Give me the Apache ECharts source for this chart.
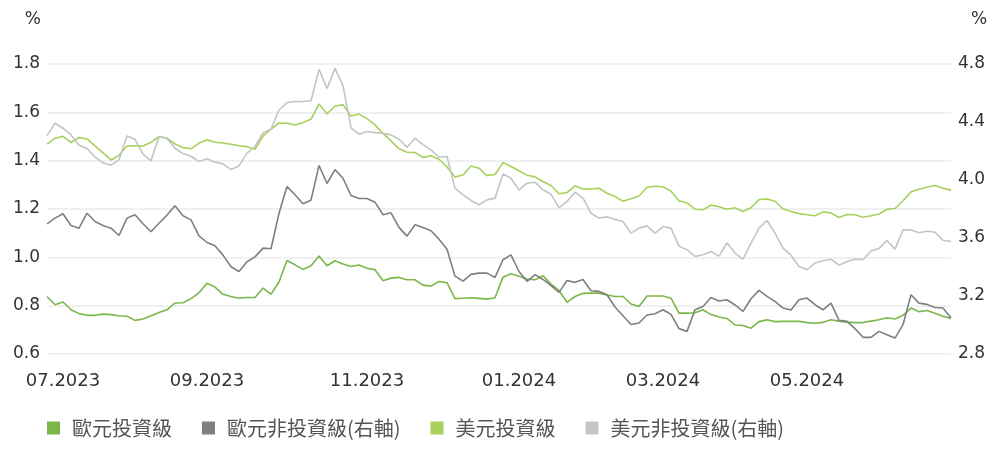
<!DOCTYPE html>
<html>
<head>
<meta charset="utf-8">
<script src="https://cdn.jsdelivr.net/npm/echarts@6/dist/echarts.min.js"></script>
<style>
  html, body { margin: 0; padding: 0; background: #fff; }
  #chart { width: 1000px; height: 456px; }
</style>
</head>
<body>
<div id="chart"></div>
<script>
// tick labels on the x axis and the point index they sit on
var tickIndex = [2, 20, 40, 59, 77, 95];
var tickLabels = ['07.2023', '09.2023', '11.2023', '01.2024', '03.2024', '05.2024'];

// 歐元投資級 (left axis)
var eurIG = [
  0.838, 0.804, 0.815, 0.783, 0.767, 0.760, 0.760, 0.765, 0.763, 0.758,
  0.756, 0.739, 0.745, 0.758, 0.772, 0.783, 0.811, 0.812, 0.829, 0.853,
  0.893, 0.877, 0.847, 0.838, 0.831, 0.834, 0.834, 0.873, 0.848, 0.898,
  0.987, 0.969, 0.950, 0.965, 1.006, 0.965, 0.986, 0.972, 0.962, 0.968,
  0.955, 0.949, 0.903, 0.914, 0.917, 0.907, 0.907, 0.885, 0.881, 0.900,
  0.895, 0.829, 0.831, 0.833, 0.830, 0.827, 0.833, 0.918, 0.932, 0.922,
  0.910, 0.907, 0.924, 0.889, 0.863, 0.814, 0.838, 0.851, 0.852, 0.852,
  0.844, 0.838, 0.838, 0.807, 0.797, 0.840, 0.840, 0.840, 0.831, 0.769,
  0.769, 0.771, 0.783, 0.763, 0.753, 0.747, 0.720, 0.718, 0.707, 0.734,
  0.742, 0.734, 0.735, 0.735, 0.735, 0.730, 0.727, 0.731, 0.742, 0.736,
  0.732, 0.730, 0.730, 0.736, 0.742, 0.750, 0.745, 0.760, 0.790, 0.775,
  0.780, 0.769, 0.756, 0.747
];

// 歐元非投資級 (right axis)
var eurHY = [
  3.698, 3.737, 3.767, 3.686, 3.668, 3.771, 3.714, 3.686, 3.668, 3.617,
  3.737, 3.760, 3.698, 3.643, 3.702, 3.758, 3.822, 3.753, 3.725, 3.615,
  3.569, 3.546, 3.482, 3.402, 3.369, 3.436, 3.470, 3.530, 3.526, 3.771,
  3.955, 3.898, 3.836, 3.861, 4.100, 3.976, 4.072, 4.012, 3.893, 3.872,
  3.872, 3.847, 3.760, 3.774, 3.673, 3.613, 3.691, 3.673, 3.650, 3.592,
  3.523, 3.337, 3.303, 3.349, 3.358, 3.358, 3.328, 3.450, 3.484, 3.369,
  3.301, 3.347, 3.314, 3.271, 3.225, 3.307, 3.294, 3.314, 3.236, 3.232,
  3.209, 3.124, 3.064, 3.004, 3.014, 3.069, 3.078, 3.105, 3.073, 2.975,
  2.956, 3.105, 3.128, 3.190, 3.165, 3.174, 3.138, 3.094, 3.181, 3.239,
  3.197, 3.163, 3.117, 3.103, 3.174, 3.186, 3.140, 3.105, 3.151, 3.032,
  3.025, 2.975, 2.915, 2.915, 2.956, 2.933, 2.910, 3.002, 3.209, 3.151,
  3.142, 3.121, 3.117, 3.048
];

// 美元投資級 (left axis)
var usdIG = [
  1.468, 1.493, 1.501, 1.475, 1.496, 1.490, 1.461, 1.432, 1.403, 1.422,
  1.461, 1.462, 1.461, 1.476, 1.500, 1.493, 1.469, 1.454, 1.449, 1.473,
  1.486, 1.476, 1.473, 1.468, 1.462, 1.458, 1.447, 1.502, 1.530, 1.556,
  1.555, 1.548, 1.558, 1.571, 1.635, 1.593, 1.626, 1.631, 1.585, 1.593,
  1.574, 1.548, 1.513, 1.482, 1.449, 1.435, 1.434, 1.413, 1.420, 1.406,
  1.374, 1.332, 1.341, 1.378, 1.369, 1.338, 1.343, 1.392, 1.376, 1.358,
  1.340, 1.333, 1.314, 1.297, 1.263, 1.268, 1.296, 1.283, 1.283, 1.286,
  1.265, 1.252, 1.232, 1.242, 1.254, 1.290, 1.294, 1.292, 1.274, 1.234,
  1.225, 1.199, 1.197, 1.216, 1.209, 1.199, 1.205, 1.190, 1.205, 1.239,
  1.241, 1.232, 1.201, 1.190, 1.181, 1.176, 1.172, 1.188, 1.184, 1.165,
  1.177, 1.176, 1.166, 1.172, 1.179, 1.199, 1.202, 1.234, 1.271, 1.282,
  1.290, 1.297, 1.286, 1.278
];

// 美元非投資級 (right axis)
var usdHY = [
  4.306, 4.391, 4.357, 4.311, 4.240, 4.217, 4.159, 4.118, 4.102, 4.139,
  4.304, 4.281, 4.178, 4.132, 4.299, 4.286, 4.219, 4.182, 4.164, 4.127,
  4.146, 4.123, 4.111, 4.072, 4.097, 4.185, 4.231, 4.325, 4.352, 4.483,
  4.534, 4.541, 4.541, 4.547, 4.763, 4.632, 4.770, 4.651, 4.359, 4.316,
  4.334, 4.327, 4.322, 4.311, 4.281, 4.226, 4.288, 4.244, 4.208, 4.157,
  4.162, 3.944, 3.898, 3.859, 3.829, 3.863, 3.875, 4.042, 4.012, 3.930,
  3.978, 3.985, 3.932, 3.902, 3.808, 3.852, 3.916, 3.875, 3.771, 3.737,
  3.746, 3.728, 3.714, 3.634, 3.668, 3.684, 3.634, 3.677, 3.668, 3.544,
  3.519, 3.473, 3.484, 3.507, 3.475, 3.567, 3.496, 3.454, 3.565, 3.668,
  3.721, 3.634, 3.530, 3.482, 3.404, 3.381, 3.427, 3.443, 3.454, 3.413,
  3.438, 3.454, 3.450, 3.510, 3.528, 3.583, 3.523, 3.656, 3.656, 3.636,
  3.647, 3.640, 3.585, 3.576
];

var seriesNames = ['歐元投資級', '歐元非投資級(右軸)', '美元投資級', '美元非投資級(右軸)'];
var seriesColors = ['#7ab648', '#7f7f7f', '#a6d15c', '#c4c4c4'];

var categories = eurIG.map(function (v, i) { return 'p' + i; });

var chart = echarts.init(document.getElementById('chart'));

function line(name, data, axis, color) {
  return {
    name: name,
    type: 'line',
    yAxisIndex: axis,
    data: data,
    symbol: 'none',
    lineStyle: { width: 1.6, color: color },
    itemStyle: { color: color }
  };
}

var tickFont = { fontFamily: 'DejaVu Sans', fontSize: 17, color: '#333' };

var option = {
  animation: false,
  color: seriesColors,
  grid: { left: 47, right: 49, top: 64, bottom: 102, containLabel: false },
  legend: {
    left: 42,
    top: 413,
    icon: 'rect',
    itemWidth: 13,
    itemHeight: 13,
    itemGap: 30,
    textStyle: {
      fontFamily: 'Noto Sans CJK TC',
      fontSize: 20,
      color: '#555',
      padding: [0, 0, 0, 7]
    },
    data: seriesNames
  },
  xAxis: {
    type: 'category',
    data: categories,
    boundaryGap: false,
    axisLine: { show: false },
    axisTick: { show: false },
    splitLine: { show: false },
    axisLabel: {
      margin: 18,
      fontFamily: 'DejaVu Sans',
      fontSize: 18,
      color: '#333',
      interval: function (i) { return tickIndex.indexOf(i) >= 0; },
      formatter: function (v, i) {
        var k = tickIndex.indexOf(i);
        return k >= 0 ? tickLabels[k] : '';
      }
    }
  },
  yAxis: [
    {
      type: 'value',
      min: 0.6,
      max: 1.8,
      interval: 0.2,
      name: '%',
      nameGap: 36,
      nameTextStyle: { fontFamily: 'DejaVu Sans', fontSize: 17, color: '#333', align: 'right', padding: [0, 6, 0, 0] },
      axisLine: { show: false },
      axisTick: { show: false },
      splitLine: { lineStyle: { color: '#ebebeb', width: 1.5 } },
      axisLabel: Object.assign({ margin: 7, formatter: function (v) { return v.toFixed(1); } }, tickFont)
    },
    {
      type: 'value',
      min: 2.8,
      max: 4.8,
      interval: 0.4,
      name: '%',
      nameGap: 36,
      nameTextStyle: { fontFamily: 'DejaVu Sans', fontSize: 17, color: '#333', align: 'left', padding: [0, 0, 0, 20] },
      axisLine: { show: false },
      axisTick: { show: false },
      splitLine: { show: false },
      axisLabel: Object.assign({ margin: 7, formatter: function (v) { return v.toFixed(1); } }, tickFont)
    }
  ],
  series: [
    line(seriesNames[0], eurIG, 0, seriesColors[0]),
    line(seriesNames[1], eurHY, 1, seriesColors[1]),
    line(seriesNames[2], usdIG, 0, seriesColors[2]),
    line(seriesNames[3], usdHY, 1, seriesColors[3])
  ]
};

chart.setOption(option);
</script>
</body>
</html>
